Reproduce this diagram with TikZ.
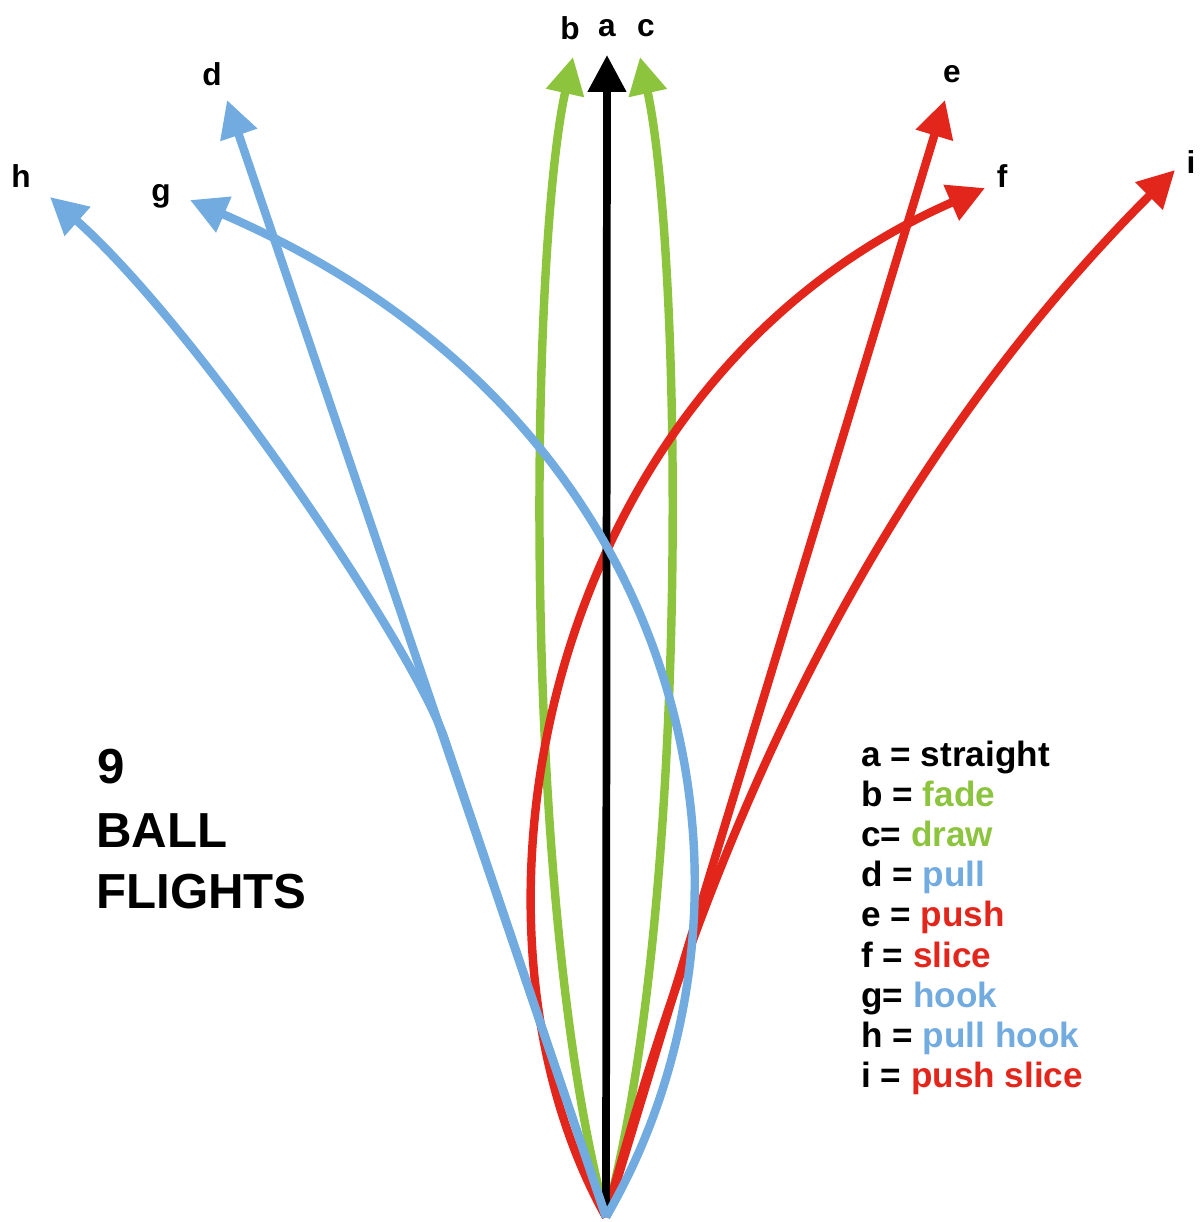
\documentclass[tikz,border=0pt]{standalone}
\usepackage{fontspec}
\setmainfont{Liberation Sans}
\usepackage{tikz}
\usetikzlibrary{arrows.meta,positioning}
\definecolor{fadeGreen}{RGB}{140,196,62}
\definecolor{hookBlue}{RGB}{114,171,223}
\definecolor{sliceRed}{RGB}{227,38,28}

\begin{document}
\begin{tikzpicture}[x=0.02cm, y=-0.02cm,
    flight/.style={line width=4.8pt, -{Triangle[length=21pt, width=21pt]}},
    tag/.style={inner sep=0pt, font=\fontsize{18}{18}\selectfont\bfseries},
    key/.style={anchor=base west, inner sep=0pt, font=\fontsize{20}{20}\selectfont\bfseries},
    bigtext/.style={anchor=base west, inner sep=0pt, font=\fontsize{28}{28}\selectfont\bfseries}]
\useasboundingbox (0,0) rectangle (1199,1222);

% tee and arrow tips
\coordinate (tee) at (606,1217);
\coordinate (tipA) at (607,55);
\coordinate (tipB) at (573,57);
\coordinate (tipC) at (640,57);
\coordinate (tipD) at (227,100);
\coordinate (tipE) at (945,100);
\coordinate (tipF) at (985,188);
\coordinate (tipG) at (190,200);
\coordinate (tipH) at (50,197);
\coordinate (tipI) at (1175,170);
\coordinate (splitH) at (445,740);

% green: fade and draw
\draw[flight, fadeGreen] (tee) .. controls (520,900) and (530,250) .. (tipB);
\draw[flight, fadeGreen] (tee) .. controls (692,900) and (682,250) .. (tipC);

% red: push, slice, push slice
\draw[flight, sliceRed] (tee) -- (tipE);
\draw[flight, sliceRed] (tee) .. controls (440,920) and (545,380) .. (tipF);
\draw[flight, sliceRed] (tee) .. controls (675,960) and (815,530) .. (tipI);

% straight
\draw[flight, black, line width=4.4pt] (tee) -- (tipA);

% blue: pull, hook, pull hook
\draw[flight, hookBlue] (tee) -- (tipD);
\draw[flight, hookBlue] (tee) .. controls (790,900) and (700,420) .. (tipG);
\draw[flight, hookBlue] (tee) -- (splitH) .. controls (415,650) and (200,330) .. (tipH);

% letters at the tips
\node[tag] (labB) at (570,28) {b};
\node[tag] (labA) at (607,28) {a};
\node[tag] (labC) at (646,28) {c};
\node[tag] (labD) at (212,74) {d};
\node[tag] (labE) at (952,74) {e};
\node[tag] (labH) at (21,176) {h};
\node[tag] (labG) at (161,196) {g};
\node[tag] (labF) at (1002,176) {f};
\node[tag] (labI) at (1191,162) {i};

% title
\node[bigtext] (nine) at (97,783) {9};
\node[bigtext] (ball) at (96,847) {BALL};
\node[bigtext] (flights) at (96,908) {FLIGHTS};

% key
\foreach \k/\lhs/\word/\clr in {0/{a =}/straight/black, 1/{b =}/fade/fadeGreen,
    2/{c=}/draw/fadeGreen, 3/{d =}/pull/hookBlue, 4/{e =}/push/sliceRed,
    5/{f =}/slice/sliceRed, 6/{g=}/hook/hookBlue, 7/{h =}/pull hook/hookBlue,
    8/{i =}/push slice/sliceRed}
  \node[key] (key\k) at (861,766+40.2*\k) {\lhs{} \textcolor{\clr}{\word}};

\end{tikzpicture}
\end{document}
